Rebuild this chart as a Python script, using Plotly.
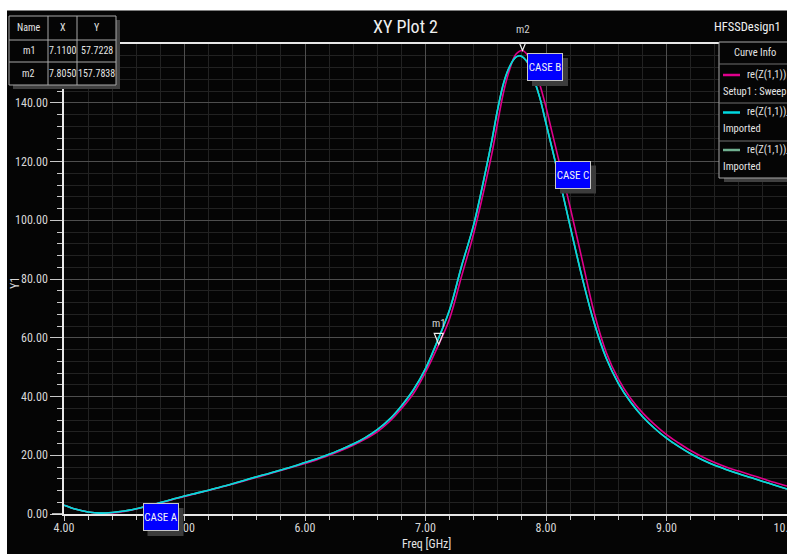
import plotly.graph_objects as go

# ---------------- data ----------------
freq_sim = [4.0, 4.1, 4.2, 4.3, 4.4, 4.5, 4.6, 4.7, 4.8, 4.9, 5.0, 5.1, 5.2, 5.3, 5.4, 5.5,
            5.6, 5.7, 5.8, 5.9, 6.0, 6.1, 6.2, 6.3, 6.4, 6.5, 6.6, 6.7, 6.8, 6.9, 7.0, 7.11,
            7.2, 7.3, 7.4, 7.5, 7.55, 7.6, 7.65, 7.7, 7.75, 7.805, 7.85, 7.9, 7.95, 8.0, 8.05,
            8.1, 8.2, 8.3, 8.4, 8.5, 8.6, 8.7, 8.8, 8.9, 9.0, 9.1, 9.2, 9.3, 9.4, 9.5, 9.6,
            9.7, 9.8, 9.9, 10.0]
re_sim = [3.0, 1.6, 0.7, 0.3, 0.4, 0.9, 1.7, 2.7, 3.8, 4.9, 6.0, 7.0, 8.0, 9.1, 10.2, 11.3,
          12.5, 13.6, 14.8, 16.0, 17.2, 18.5, 20.0, 21.6, 23.4, 25.5, 28.0, 31.4, 35.8, 41.0,
          48.2, 57.7228, 66.5, 81.0, 95.5, 113.0, 122.5, 133.5, 144.0, 151.5, 156.5,
          157.7838, 156.0, 151.5, 146.0, 138.5, 130.0, 121.5, 104.5, 86.5, 68.5, 55.0, 46.0,
          39.5, 34.5, 30.5, 27.0, 24.2, 21.6, 19.4, 17.5, 15.9, 14.6, 13.3, 12.0, 10.7, 9.5]

freq_imp = [4.0, 4.1, 4.2, 4.3, 4.4, 4.5, 4.6, 4.7, 4.8, 4.9, 5.0, 5.1, 5.2, 5.3, 5.4, 5.5,
            5.6, 5.7, 5.8, 5.9, 6.0, 6.1, 6.2, 6.3, 6.4, 6.5, 6.6, 6.7, 6.8, 6.9, 7.0, 7.1,
            7.2, 7.3, 7.4, 7.5, 7.55, 7.6, 7.65, 7.7, 7.75, 7.785, 7.85, 7.9, 7.95, 8.0, 8.05,
            8.1, 8.2, 8.3, 8.4, 8.5, 8.6, 8.7, 8.8, 8.9, 9.0, 9.1, 9.2, 9.3, 9.4, 9.5, 9.6,
            9.7, 9.8, 9.9, 10.0]
re_imp = [3.0, 1.6, 0.7, 0.3, 0.5, 1.0, 1.8, 2.8, 3.9, 5.0, 6.1, 7.1, 8.1, 9.2, 10.3, 11.5,
          12.7, 13.8, 15.0, 16.2, 17.5, 18.8, 20.3, 22.0, 23.8, 26.0, 28.7, 32.2, 36.8, 42.3,
          49.5, 59.0, 69.5, 84.5, 98.5, 117.0, 127.0, 138.0, 147.0, 152.5, 155.5, 156.0,
          153.5, 148.0, 141.5, 133.0, 124.5, 116.0, 98.0, 80.5, 65.0, 53.0, 44.5, 38.2, 33.2,
          29.2, 25.8, 23.0, 20.5, 18.4, 16.6, 15.1, 13.7, 12.4, 11.1, 9.8, 8.5]

x_ticks = [4, 5, 6, 7, 8, 9, 10]
x_tick_labels = ["4.00", "5.00", "6.00", "7.00", "8.00", "9.00", "10.00"]
y_ticks = [0, 20, 40, 60, 80, 100, 120, 140]
y_tick_labels = ["0.00", "20.00", "40.00", "60.00", "80.00", "100.00", "120.00", "140.00"]

marker_names = ["m1", "m2"]
marker_x = [7.1100, 7.8050]
marker_y = [57.7228, 157.7838]

legend_names = ["re(Z(1,1))", "re(Z(1,1))_1", "re(Z(1,1))_2"]
legend_sources = ["Setup1 : Sweep", "Imported", "Imported"]
case_labels = ["CASE A", "CASE B", "CASE C"]

# ---------------- styling ----------------
W, H = 787, 554
ML, MR, MT, MB = 64, 0, 44, 40
PW, PH = W - ML - MR, H - MT - MB
FONT = "Liberation Sans Narrow, Arial Narrow, Roboto Condensed, Liberation Sans, Arial, sans-serif"
C_SIM = "#e0008c"
C_IMP1 = "#00d8e0"
C_IMP2 = "#70b090"
TXT = "#e4e4e4"


def px(xp):
    return (xp - ML) / PW


def py(yp):
    return (H - MB - yp) / PH


fig = go.Figure()
fig.add_trace(go.Scatter(x=freq_sim, y=re_sim, mode="lines", line=dict(color=C_SIM, width=1.6, shape="spline"),
                         name=legend_names[0], hoverinfo="skip"))
fig.add_trace(go.Scatter(x=freq_imp, y=re_imp, mode="lines", line=dict(color=C_IMP2, width=1.6, shape="spline"),
                         name=legend_names[2], hoverinfo="skip"))
fig.add_trace(go.Scatter(x=freq_imp, y=re_imp, mode="lines", line=dict(color=C_IMP1, width=1.6, shape="spline"),
                         name=legend_names[1], hoverinfo="skip"))

shapes = []
annotations = []

# white border strips (top & left)
shapes.append(dict(type="rect", xref="paper", yref="paper", x0=px(0), x1=px(W), y0=py(0), y1=py(10),
                   fillcolor="white", line_width=0, layer="above"))
shapes.append(dict(type="rect", xref="paper", yref="paper", x0=px(0), x1=px(7), y0=py(0), y1=py(H),
                   fillcolor="white", line_width=0, layer="above"))
shapes.append(dict(type="line", xref="paper", yref="paper", x0=px(7), x1=px(W), y0=py(10.5), y1=py(10.5),
                   line=dict(color="#808080", width=1), layer="above"))
# x axis line extends a little left of the y axis
shapes.append(dict(type="line", xref="paper", yref="paper", x0=px(52), x1=px(64), y0=0, y1=0,
                   line=dict(color="#e8e8e8", width=1.5), layer="above"))

# title texts
annotations.append(dict(text="XY Plot 2", xref="paper", yref="paper", x=px(405), y=py(27), showarrow=False,
                        xanchor="center", yanchor="middle", font=dict(family=FONT, size=18, color="#f0f0f0")))
annotations.append(dict(text="HFSSDesign1", xref="paper", yref="paper", x=px(712), y=py(26), showarrow=False,
                        xanchor="left", yanchor="middle", font=dict(family=FONT, size=12.5, color="#f0f0f0")))
annotations.append(dict(text="Y1", xref="paper", yref="paper", x=px(15), y=py(283), showarrow=False,
                        textangle=-90, xanchor="center", yanchor="middle",
                        font=dict(family=FONT, size=12, color="#d8d8d8")))
annotations.append(dict(text="Freq [GHz]", xref="paper", yref="paper", x=px(426), y=py(544), showarrow=False,
                        xanchor="center", yanchor="middle", font=dict(family=FONT, size=12, color=TXT)))

# marker table (top-left)
tx = [9, 48, 77, 116]
ty = [16, 40, 62, 85]
shapes.append(dict(type="rect", xref="paper", yref="paper", x0=px(tx[0] + 4), x1=px(tx[-1] + 4),
                   y0=py(ty[0] + 4), y1=py(ty[-1] + 4), fillcolor="#404040", line_width=0, layer="above"))
shapes.append(dict(type="rect", xref="paper", yref="paper", x0=px(tx[0]), x1=px(tx[-1]),
                   y0=py(ty[0]), y1=py(ty[-1]), fillcolor="#050505",
                   line=dict(color="#a8a8a8", width=1), layer="above"))
for xv in tx[1:-1]:
    shapes.append(dict(type="line", xref="paper", yref="paper", x0=px(xv), x1=px(xv), y0=py(ty[0]), y1=py(ty[-1]),
                       line=dict(color="#a8a8a8", width=1), layer="above"))
for yv in ty[1:-1]:
    shapes.append(dict(type="line", xref="paper", yref="paper", x0=px(tx[0]), x1=px(tx[-1]), y0=py(yv), y1=py(yv),
                       line=dict(color="#a8a8a8", width=1), layer="above"))
rows = [["Name", "X", "Y"]] + [[n, f"{a:.4f}", f"{b:.4f}"] for n, a, b in zip(marker_names, marker_x, marker_y)]
for r, row in enumerate(rows):
    for c, txt in enumerate(row):
        annotations.append(dict(text=txt, xref="paper", yref="paper", x=px((tx[c] + tx[c + 1]) / 2),
                                y=py((ty[r] + ty[r + 1]) / 2), showarrow=False, xanchor="center",
                                yanchor="middle", font=dict(family=FONT, size=10, color=TXT)))

# curve info box (top-right)
lx0, lx1, ly0, ly1 = 719, 800, 42, 178
shapes.append(dict(type="rect", xref="paper", yref="paper", x0=px(lx0 + 5), x1=px(lx1), y0=py(ly0 + 5),
                   y1=py(ly1 + 4), fillcolor="#404040", line_width=0, layer="above"))
shapes.append(dict(type="rect", xref="paper", yref="paper", x0=px(lx0), x1=px(lx1), y0=py(ly0), y1=py(ly1),
                   fillcolor="#050505", line=dict(color="#a8a8a8", width=1), layer="above"))
for yv in [64, 103, 141]:
    shapes.append(dict(type="line", xref="paper", yref="paper", x0=px(lx0), x1=px(lx1), y0=py(yv), y1=py(yv),
                       line=dict(color="#707070", width=1), layer="above"))
annotations.append(dict(text="Curve Info", xref="paper", yref="paper", x=px(755), y=py(53), showarrow=False,
                        xanchor="center", yanchor="middle", font=dict(family=FONT, size=10.5, color=TXT)))
for i, (nm, src, col) in enumerate(zip(legend_names, legend_sources, [C_SIM, C_IMP1, C_IMP2])):
    yl = 75 + i * 37.5
    shapes.append(dict(type="line", xref="paper", yref="paper", x0=px(723), x1=px(740), y0=py(yl), y1=py(yl),
                       line=dict(color=col, width=2.5), layer="above"))
    annotations.append(dict(text=nm, xref="paper", yref="paper", x=px(745), y=py(yl - 1), showarrow=False,
                            xanchor="left", yanchor="middle", font=dict(family=FONT, size=10.5, color=TXT)))
    annotations.append(dict(text=src, xref="paper", yref="paper", x=px(721), y=py(yl + 16), showarrow=False,
                            xanchor="left", yanchor="middle", font=dict(family=FONT, size=10.5, color=TXT)))

# CASE boxes
case_pos = [(160.5, 517), (545, 67), (573, 174.5)]
for lab, (cx, cy) in zip(case_labels, case_pos):
    shapes.append(dict(type="rect", xref="paper", yref="paper", x0=px(cx - 18 + 5), x1=px(cx + 18 + 5),
                       y0=py(cy - 14 + 5), y1=py(cy + 14 + 5), fillcolor="#3c3c3c", line_width=0, layer="above"))
    annotations.append(dict(text=lab, xref="paper", yref="paper", x=px(cx), y=py(cy), showarrow=False,
                            xanchor="center", yanchor="middle", width=34, height=26, bgcolor="#0000ff",
                            bordercolor="#c8c8c8", borderwidth=1, borderpad=0,
                            font=dict(family=FONT, size=11, color="#f4f4f4")))

# markers m1, m2
for nm, mx, my in zip(marker_names, marker_x, marker_y):
    shapes.append(dict(type="path", xref="x", yref="y", xsizemode="pixel", ysizemode="pixel",
                       xanchor=mx, yanchor=my, path="M -4.5 11 L 4.5 11 L 0 0 Z",
                       line=dict(color="#f0f0f0", width=1.2), fillcolor="rgba(0,0,0,0)", layer="above"))
    annotations.append(dict(text=nm, xref="x", yref="y", x=mx, y=my, yshift=21, showarrow=False,
                            xanchor="center", yanchor="middle", font=dict(family=FONT, size=11, color="#d0d0d0")))

fig.update_layout(
    width=W, height=H,
    margin=dict(l=ML, r=MR, t=MT, b=MB, pad=0),
    paper_bgcolor="#050505", plot_bgcolor="#050505",
    showlegend=False,
    shapes=shapes, annotations=annotations,
    font=dict(family=FONT, color="#d0d0d0"),
    xaxis=dict(range=[4, 10], tickmode="array", tickvals=x_ticks, ticktext=x_tick_labels,
               showgrid=True, gridcolor="#4e4e4e", gridwidth=1, zeroline=False,
               showline=True, linecolor="#e8e8e8", linewidth=1.5, mirror=True,
               ticks="outside", ticklen=5, tickcolor="#c8c8c8", tickwidth=1,
               ticklabelstandoff=-3, ticklabeloverflow="allow",
               tickfont=dict(family=FONT, size=12, color="#d8d8d8"),
               minor=dict(tick0=4, dtick=0.2, showgrid=True, gridcolor="#222222", ticks="outside",
                          ticklen=4, tickcolor="#c8c8c8"),
               automargin=False, fixedrange=True),
    yaxis=dict(range=[0, 160], tickmode="array", tickvals=y_ticks, ticktext=y_tick_labels,
               showgrid=True, gridcolor="#4e4e4e", gridwidth=1, zeroline=False,
               showline=True, linecolor="#e8e8e8", linewidth=1.5,
               ticks="outside", ticklen=12, tickcolor="#c8c8c8", tickwidth=1,
               ticklabelstandoff=0,
               tickfont=dict(family=FONT, size=12, color="#d8d8d8"),
               minor=dict(tick0=0, dtick=4, showgrid=True, gridcolor="#222222", ticks="outside",
                          ticklen=5, tickcolor="#c8c8c8"),
               automargin=False, fixedrange=True),
)

fig.write_html("out.html", config={"displayModeBar": False},
               post_script="document.body.style.margin='0';document.body.style.padding='0';")
